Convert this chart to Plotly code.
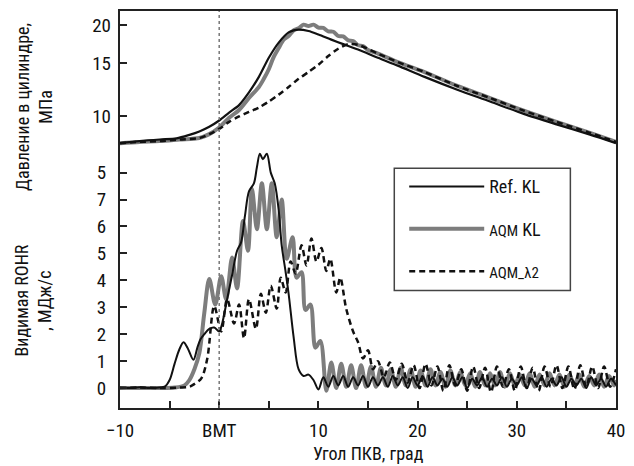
import plotly.graph_objects as go

# ---------------- data ----------------
# Pressure in cylinder, MPa (top panel, log scale)
p_ref_x = [-10, -8, -6, -4.3, -3, -2, -1, 0, 1, 2, 3, 4, 5, 6, 7, 7.5, 8, 9, 10, 11.3, 12.5, 14, 16, 18,
           20.7, 24, 27.3, 30.7, 34, 37.3, 40]
p_ref_y = [8.17, 8.3, 8.4, 8.47, 8.7, 8.93, 9.25, 9.7, 10.3, 10.9, 12.0, 13.5, 15.6, 17.5, 18.9, 19.2, 19.3,
           19.1, 18.6, 17.9, 17.3, 16.6, 15.6, 14.7, 13.5, 12.25, 11.2, 10.2, 9.42, 8.73, 8.17]

p_aqm_x = [-10, -8, -6, -4, -2, -1, 0, 1, 2, 3, 4, 4.5, 5, 5.5, 6, 6.5, 7, 7.5, 8, 8.5, 9, 9.5, 10, 10.5,
           11, 11.5, 12, 12.5, 13, 13.5, 14, 14.5, 15, 16, 18, 20.7, 24, 27.3, 30.7, 34, 37.3, 40]
p_aqm_y = [8.17, 8.25, 8.3, 8.4, 8.5, 8.75, 9.2, 9.9, 10.5, 11.5, 12.5, 13.3, 14.3, 15.7, 16.8, 17.9, 18.4,
           19.2, 19.5, 20.05, 19.85, 20.05, 19.6, 19.55, 19.05, 19.0, 18.4, 18.35, 17.8, 17.7, 17.15, 17.05,
           16.55, 16.1, 15.1, 14.0, 12.6, 11.5, 10.45, 9.6, 8.85, 8.25]

p_l2_x = [-10, -8, -6, -4, -2, -1, 0, 1, 2, 3, 4, 5, 6, 7, 8, 9, 10, 11, 12, 13, 14, 16, 18, 20.7, 24,
          27.3, 30.7, 34, 37.3, 40]
p_l2_y = [8.17, 8.25, 8.3, 8.4, 8.5, 8.75, 9.1, 9.6, 10.0, 10.35, 10.7, 11.2, 11.8, 12.5, 13.3, 14.0, 14.8,
          15.8, 16.7, 17.3, 17.2, 16.1, 15.1, 14.0, 12.6, 11.5, 10.45, 9.6, 8.85, 8.25]

# Apparent ROHR, MJ/s (bottom panel)
r_ref_x = [-10, -9, -8, -7, -6, -5.5, -5, -4.5, -4, -3.6, -3.2, -2.6, -2.2, -1.9, -1.5, -1, -0.5, 0, 0.3,
           0.8, 1.3, 1.8, 2.2, 2.6, 3.0, 3.5, 3.8, 4.1, 4.4, 4.8, 5.2, 5.6, 6.0, 6.3, 6.7, 7.0, 7.5, 8.0,
           8.5, 9.0, 9.5, 10.0, 10.5, 11.0, 11.5, 12.0, 12.5, 13.0, 13.5, 14.0, 14.5, 15.0, 15.5, 16.0,
           16.5, 17.0, 17.5, 18.0, 18.5, 19.0, 19.5, 20.0, 20.5, 21.0, 21.5, 22.0, 22.5, 23.0, 23.5, 24.0,
           24.5, 25.0, 25.5, 26.0, 26.5, 27.0, 27.5, 28.0, 28.5, 29.0, 29.5, 30.0, 30.5, 31.0, 31.5, 32.0,
           32.5, 33.0, 33.5, 34.0, 34.5, 35.0, 35.5, 36.0, 36.5, 37.0, 37.5, 38.0, 38.5, 39.0, 39.5, 40.0]
r_ref_y = [0.02, 0.0, 0.03, 0.0, 0.02, 0.05, 0.3, 0.9, 1.45, 1.7, 1.5, 1.05, 1.5, 1.8, 2.0, 2.2, 2.25, 2.1,
           2.4, 3.3, 4.2, 5.1, 5.4, 6.4, 7.3, 7.6, 8.2, 8.7, 8.5, 8.7, 8.0, 7.6, 6.6, 5.3, 4.3, 3.5, 1.9,
           0.7, 0.45, 0.5, 0.3, -0.05, 0.4, 0.05, 0.45, 0.1, 0.45, 0.05, 0.4, 0.1, 0.45, 0.05, 0.4, 0.1,
           0.4, 0.05, 0.45, 0.1, 0.4, 0.0, 0.4, 0.1, 0.45, 0.05, 0.4, 0.1, 0.35, 0.05, 0.4, 0.1, 0.4,
           0.0, 0.35, 0.1, 0.4, 0.05, 0.35, 0.1, 0.4, 0.05, 0.35, 0.1, 0.4, 0.0, 0.35, 0.1, 0.4, 0.05,
           0.35, 0.1, 0.4, 0.05, 0.35, 0.1, 0.35, 0.0, 0.4, 0.1, 0.35, 0.05, 0.35, 0.1]

r_aqm_x = [-10, -8, -6, -4.5, -3.5, -3, -2.5, -2, -1.5, -1.0, -0.4, 0.2, 0.7, 1.3, 1.8, 2.4, 2.9, 3.3, 3.8,
           4.3, 4.8, 5.3, 5.8, 6.3, 6.8, 7.4, 7.8, 8.3, 8.7, 9.2, 9.7, 10.2, 10.8, 11.3, 11.8, 12.3, 12.8,
           13.3, 13.8, 14.3, 14.8, 15.3, 15.8, 16.3, 16.8, 17.3, 17.8, 18.3, 18.8, 19.3, 19.8, 20.3, 20.8,
           21.3, 21.8, 22.3, 22.8, 23.3, 23.8, 24.3, 24.8, 25.3, 25.8, 26.3, 26.8, 27.3, 27.8, 28.3, 28.8,
           29.3, 29.8, 30.3, 30.8, 31.3, 31.8, 32.3, 32.8, 33.3, 33.8, 34.3, 34.8, 35.3, 35.8, 36.3, 36.8,
           37.3, 37.8, 38.3, 38.8, 39.3, 39.8, 40.0]
r_aqm_y = [0.0, 0.0, 0.0, 0.02, 0.1, 0.3, 0.7, 1.3, 2.8, 4.05, 3.1, 4.15, 3.3, 4.85, 3.7, 6.2, 5.1, 7.4,
           5.9, 7.6, 5.9, 7.6, 5.6, 7.0, 4.8, 5.6, 4.1, 4.3, 2.9, 3.1, 1.5, 1.75, -0.1, 0.95, 0.0, 0.9,
           0.05, 0.85, 0.0, 0.85, 0.05, 0.8, 0.05, 0.75, 0.1, 0.7, 0.05, 0.75, 0.1, 0.7, 0.05, 0.65, 0.1,
           0.7, 0.1, 0.6, 0.05, 0.65, 0.1, 0.6, 0.1, 0.55, 0.05, 0.6, 0.1, 0.55, 0.1, 0.6, 0.05, 0.55,
           0.1, 0.5, 0.1, 0.55, 0.05, 0.5, 0.1, 0.55, 0.1, 0.5, 0.05, 0.5, 0.1, 0.5, 0.05, 0.45, 0.1, 0.5,
           0.05, 0.45, 0.1, 0.3]

r_l2_x = [-10, -8, -6, -4, -3, -2.5, -1.8, -1.2, -0.5, 0.2, 0.8, 1.5, 2.0, 2.5, 3.0, 3.7, 4.2, 4.7, 5.2,
          5.8, 6.2, 6.7, 7.2, 7.7, 8.3, 8.8, 9.3, 9.8, 10.3, 10.8, 11.2, 11.8, 12.2, 12.8, 13.5, 14.0,
          14.5, 15.0, 15.5, 16.0, 16.6, 17.2, 17.8, 18.4, 19.0, 19.6, 20.2, 20.8, 21.4, 22.0, 22.6, 23.2,
          23.8, 24.4, 25.0, 25.6, 26.2, 26.8, 27.4, 28.0, 28.6, 29.2, 29.8, 30.4, 31.0, 31.6, 32.2, 32.8,
          33.4, 34.0, 34.6, 35.2, 35.8, 36.4, 37.0, 37.6, 38.2, 38.8, 39.4, 40.0]
r_l2_y = [0.0, 0.02, 0.0, 0.02, 0.05, 0.15, 0.36, 1.1, 3.05, 2.1, 3.3, 2.4, 3.1, 1.85, 3.3, 2.2, 3.5, 2.8,
          3.8, 2.95, 4.1, 3.55, 4.7, 4.25, 5.3, 4.55, 5.55, 4.7, 5.2, 4.35, 4.8, 3.55, 4.1, 2.95, 2.1,
          1.7, 1.1, 1.4, 0.7, 1.0, 0.4, 0.95, 0.3, 0.9, 0.2, 0.85, 0.0, 0.9, 0.1, 0.8, -0.1, 0.85, 0.1,
          0.7, -0.1, 0.8, 0.0, 0.75, -0.15, 0.8, 0.05, 0.7, -0.1, 0.8, 0.0, 0.75, -0.1, 0.8, 0.05, 0.85,
          0.0, 0.8, -0.05, 0.85, 0.05, 0.8, 0.0, 0.8, 0.05, 0.7]

x_tickvals = [-10, -5, 0, 5, 10, 15, 20, 25, 30, 35, 40]
x_ticktext = ["\u221210", "", "BMT", "", "10", "", "20", "", "30", "", "40"]
r_tickvals = [0, 1, 2, 3, 4, 5, 6, 7, 8]
r_ticktext = ["0", "1", "2", "3", "4", "5", "6", "7", "5"]
p_tickvals = [10, 15, 20]
p_ticktext = ["10", "15", "20"]

names = ["Ref. KL",
         "<span style='font-size:15px'>AQM</span> KL",
         "<span style='font-size:15px'>AQM_\u03bb2</span>"]

# ---------------- figure ----------------
FONT = "Liberation Sans Narrow, Arial Narrow, Roboto Condensed, Liberation Sans, sans-serif"
BLACK = "#111111"
GRAY = "#7d7d7d"

fig = go.Figure()

# pressure traces (yaxis2)
fig.add_trace(go.Scatter(x=p_aqm_x, y=p_aqm_y, yaxis="y2", mode="lines", showlegend=False,
                         line=dict(color=GRAY, width=4, shape="spline", smoothing=0.8)))
fig.add_trace(go.Scatter(x=p_ref_x, y=p_ref_y, yaxis="y2", mode="lines", showlegend=False,
                         line=dict(color=BLACK, width=2.2, shape="spline", smoothing=0.8)))
fig.add_trace(go.Scatter(x=p_l2_x, y=p_l2_y, yaxis="y2", mode="lines", showlegend=False,
                         line=dict(color=BLACK, width=2.5, dash="6px,4px", shape="spline", smoothing=0.8)))

# ROHR traces
fig.add_trace(go.Scatter(x=r_aqm_x, y=r_aqm_y, mode="lines", name=names[1], legendgroup="b",
                         legendrank=2,
                         line=dict(color=GRAY, width=4, shape="spline", smoothing=0.9)))
fig.add_trace(go.Scatter(x=r_ref_x, y=r_ref_y, mode="lines", name=names[0], legendgroup="a",
                         legendrank=1,
                         line=dict(color=BLACK, width=2, shape="spline", smoothing=0.9)))
fig.add_trace(go.Scatter(x=r_l2_x, y=r_l2_y, mode="lines", name=names[2], legendgroup="c",
                         legendrank=3,
                         line=dict(color=BLACK, width=2.5, dash="6px,4px", shape="spline", smoothing=0.9)))

# BMT dotted line
fig.add_shape(type="line", xref="x", yref="paper", x0=0, x1=0, y0=0, y1=1,
              line=dict(color="#777777", width=1.5, dash="dot"))
# legend frame
fig.add_shape(type="rect", xref="paper", yref="paper", x0=0.553, x1=0.908, y0=0.296, y1=0.604,
              line=dict(color="#444444", width=1.5), fillcolor="rgba(0,0,0,0)", layer="above")

axis_font = dict(family=FONT, size=19, color="#111111")

fig.update_layout(
    width=634, height=466,
    margin=dict(l=120, r=13, t=9, b=58),
    paper_bgcolor="white", plot_bgcolor="white",
    font=dict(family=FONT, size=16, color="#111111"),
    xaxis=dict(range=[-10, 40], tickvals=x_tickvals, ticktext=x_ticktext, ticks="inside",
               ticklen=7, tickwidth=1.5, tickcolor="#222", showline=True, linecolor="#222",
               linewidth=2, mirror=True, showgrid=False, zeroline=False, tickfont=axis_font,
               ticklabelstandoff=4),
    yaxis=dict(range=[-0.74, 14.0], tickvals=r_tickvals, ticktext=r_ticktext, ticks="inside",
               ticklen=7, tickwidth=1.5, tickcolor="#222", showline=True, linecolor="#222",
               linewidth=2, mirror=True, showgrid=False, zeroline=False, tickfont=axis_font,
               ticklabelstandoff=8),
    yaxis2=dict(type="log", range=[0.041, 1.347], tickvals=p_tickvals, ticktext=p_ticktext,
                overlaying="y", side="left", ticks="inside", ticklen=7, tickwidth=1.5,
                tickcolor="#222", showline=False, showgrid=False, zeroline=False,
                tickfont=axis_font, ticklabelstandoff=8),
    legend=dict(x=0.573, y=0.604, xanchor="left", yanchor="top", bgcolor="rgba(0,0,0,0)",
                borderwidth=0, font=dict(family=FONT, size=18),
                tracegroupgap=16, traceorder="grouped", itemwidth=75),
    annotations=[
        dict(text="Давление в цилиндре,<br>МПа", xref="paper", yref="paper", x=-0.175, y=0.759,
             textangle=-90, showarrow=False, font=dict(family=FONT, size=18),
             xanchor="center", yanchor="middle"),
        dict(text="Видимая ROHR<br>, МДж/с", xref="paper", yref="paper", x=-0.175, y=0.271,
             textangle=-90, showarrow=False, font=dict(family=FONT, size=18),
             xanchor="center", yanchor="middle"),
        dict(text="Угол ПКВ, град", xref="paper", yref="paper", x=0.5, y=-0.115,
             showarrow=False, font=dict(family=FONT, size=18), xanchor="center", yanchor="middle"),
    ],
)

fig.write_html("out.html")
